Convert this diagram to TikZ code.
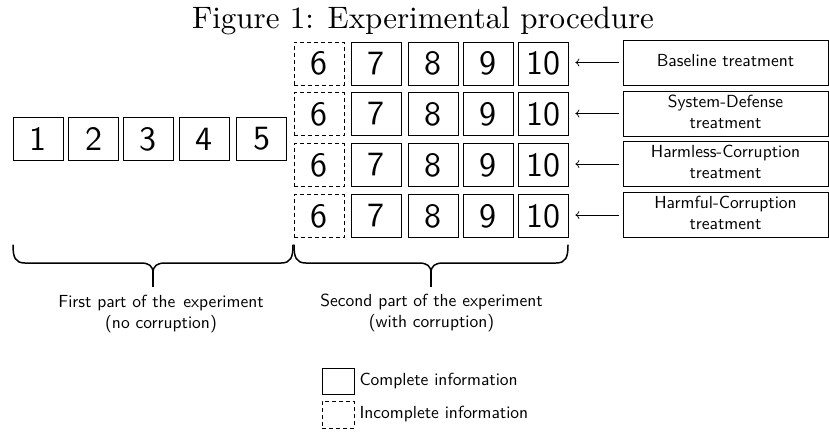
\documentclass[tikz,border=0pt]{standalone}
\usepackage{graphicx}
\usetikzlibrary{arrows.meta}
\newcommand\sctxt[1]{\scalebox{1.75}{\sffamily\begin{tabular}{@{}c@{}}#1\end{tabular}}}
\newcommand\numtxt[1]{\scalebox{3.4}{\sffamily #1}}
\tikzset{
  numbox/.style={draw, line width=0.7pt, minimum width=50pt, minimum height=43pt, inner sep=0pt},
  dashbox/.style={numbox, dash pattern=on 4pt off 3pt},
  lblbox/.style={draw, line width=0.7pt, minimum width=205pt, minimum height=45pt, inner sep=0pt},
  txt/.style={inner sep=0pt},
  arr/.style={-{To[length=4pt,width=8pt]}, line width=0.7pt, shorten <=4pt, shorten >=7pt},
  bracepath/.style={line width=1.5pt, line cap=round},
  bracestem/.style={line width=2pt},
  legsolid/.style={draw, line width=0.7pt, minimum width=32pt, minimum height=26pt, inner sep=0pt},
  legdash/.style={legsolid, minimum height=27pt, dash pattern=on 4pt off 3pt},
}
\begin{document}
\begin{tikzpicture}[x=1pt,y=-1pt]
\useasboundingbox (0,0) rectangle (829,432);
\node[txt, anchor=base] (title) at (423,28) {\scalebox{3.1}{Figure 1: Experimental procedure}};
% first part
\foreach \i/\x in {1/38,2/93.5,3/148,4/204,5/261.5}
  \node[numbox] (p\i) at (\x,139) {\numtxt{\i}};
% second part rows
\foreach \r/\y in {1/63.5,2/114,3/165,4/216}{
  \node[dashbox] (r\r c6) at (319,\y) {\numtxt{6}};
  \foreach \c/\x in {7/376,8/433,9/488,10/543}
    \node[numbox] (r\r c\c) at (\x,\y) {\numtxt{\c}};
}
% treatments
\node[lblbox] (t1) at (725.5,62.5) {\sctxt{Baseline treatment}};
\node[lblbox] (t2) at (725.5,113.5) {\sctxt{System-Defense\\treatment}};
\node[lblbox] (t3) at (725.5,164) {\sctxt{Harmless-Corruption\\treatment}};
\node[lblbox] (t4) at (725.5,215) {\sctxt{Harmful-Corruption\\treatment}};
\foreach \r in {1,2,3,4}
  \draw[arr] (t\r.west) -- (r\r c10.east |- t\r.west);
% braces
\draw[bracepath] (13,245) .. controls (13,257) and (15,263) .. (25,263) -- (141,263) .. controls (149,263) and (153,266) .. (153,273);
\draw[bracepath] (293,245) .. controls (293,257) and (291,263) .. (281,263) -- (165,263) .. controls (157,263) and (153,266) .. (153,273);
\draw[bracestem] (153,272) -- (153,287);
\draw[bracepath] (294,245) .. controls (294,257) and (296,263) .. (306,263) -- (419,263) .. controls (427,263) and (431,266) .. (431,273);
\draw[bracepath] (568,245) .. controls (568,257) and (566,263) .. (556,263) -- (443,263) .. controls (435,263) and (431,266) .. (431,273);
\draw[bracestem] (431,272) -- (431,287);
% part labels
\node[txt] (part1) at (161,314) {\sctxt{First part of the\hspace{1.2pt} experiment\\(no corruption)}};
\node[txt] (part2) at (431.5,313) {\sctxt{Second part of the experiment\\(with corruption)}};
% legend
\node[legsolid] (lc) at (338,381) {};
\node[legdash] (li) at (338,414.5) {};
\node[txt, anchor=west] (lct) at ([xshift=5pt]lc.east) {\sctxt{Complete information}};
\node[txt, anchor=west] (lit) at ([xshift=5pt]li.east) {\sctxt{Incomplete information}};
\end{tikzpicture}
\end{document}
